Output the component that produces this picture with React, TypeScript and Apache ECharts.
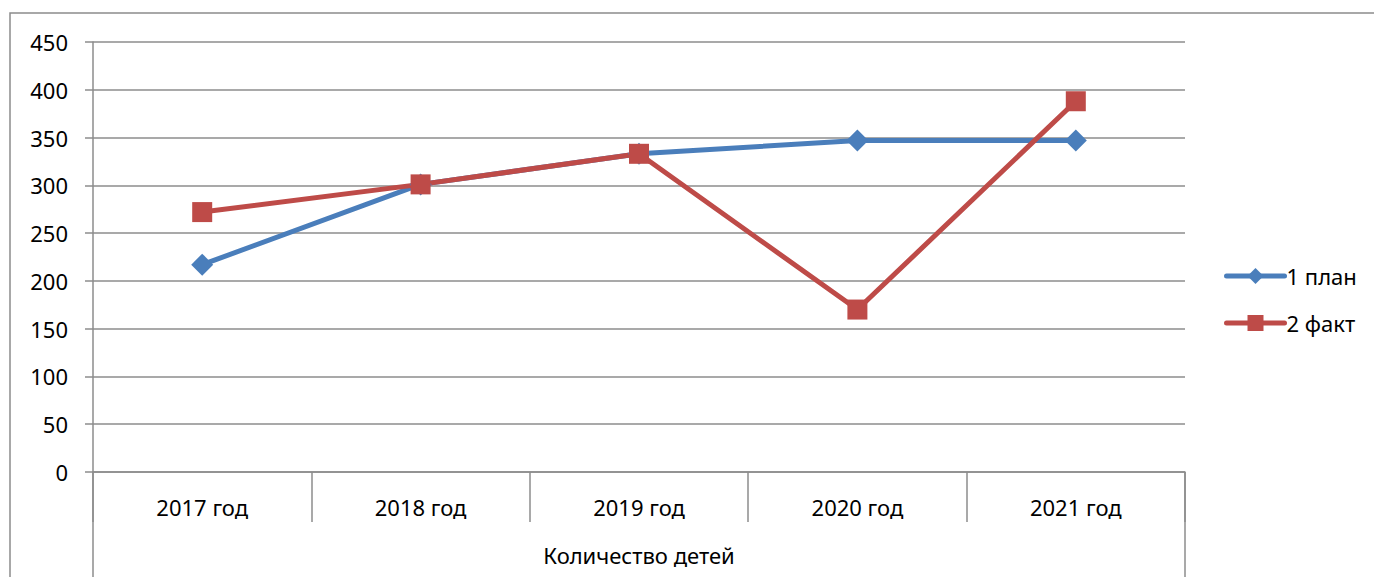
import React, { useEffect, useRef } from "react";
import * as echarts from "echarts";

const categories = ["2017 год", "2018 год", "2019 год", "2020 год", "2021 год"];
const groupLabel = ["Количество детей"];
const planValues = [217, 301, 333, 347, 347];
const factValues = [272, 301, 333, 170, 388];
const seriesNames = ["1 план", "2 факт"];

const FONT = "'Noto Sans', sans-serif";
const GRID_COLOR = "#8c8c8c";
const FS = 22;

export default function App() {
  const ref = useRef<HTMLDivElement>(null);
  useEffect(() => {
    if (!ref.current) return;
    const chart = echarts.init(ref.current, undefined, { renderer: "svg" });
    chart.setOption({
      animation: false,
      backgroundColor: "#ffffff",
      textStyle: { fontFamily: FONT },
      graphic: [
        {
          type: "rect",
          shape: { x: 10, y: 13, width: 1400, height: 600 },
          style: { fill: "none", stroke: "#8c8c8c", lineWidth: 1.5 },
          silent: true,
          z: -10,
        },
      ],
      grid: { left: 93, right: 189, top: 42, bottom: 105 },
      legend: {
        orient: "vertical",
        left: 1219,
        top: 260,
        itemWidth: 58,
        itemHeight: 20,
        itemGap: 25,
        lineStyle: { width: 5, cap: "round" },
        textStyle: { fontSize: FS, color: "#000", fontFamily: FONT, padding: [0, 0, 0, -3] },
        data: seriesNames,
      },
      xAxis: [
        {
          type: "category",
          data: categories,
          boundaryGap: true,
          axisLine: { lineStyle: { color: GRID_COLOR, width: 1.5 } },
          axisTick: { show: true, length: 50, interval: 0, lineStyle: { color: GRID_COLOR, width: 1.5 } },
          axisLabel: { margin: 24, fontSize: FS, color: "#000", fontFamily: FONT },
        },
        {
          type: "category",
          data: groupLabel,
          position: "bottom",
          boundaryGap: true,
          axisLine: { show: false },
          axisTick: { show: true, length: 110, lineStyle: { color: GRID_COLOR, width: 1.5 } },
          axisLabel: { margin: 72, fontSize: FS, color: "#000", fontFamily: FONT },
        },
      ],
      yAxis: {
        type: "value",
        min: 0,
        max: 450,
        interval: 50,
        axisLine: { show: true, lineStyle: { color: GRID_COLOR, width: 1.5 } },
        axisTick: { show: true, length: 8, lineStyle: { color: GRID_COLOR, width: 1.5 } },
        splitLine: { lineStyle: { color: GRID_COLOR, width: 1.5 } },
        axisLabel: { margin: 25, fontSize: FS, color: "#000", fontFamily: FONT },
      },
      series: [
        {
          name: seriesNames[0],
          type: "line",
          data: planValues,
          symbol: "diamond",
          symbolSize: 22,
          lineStyle: { color: "#4A7EBB", width: 5 },
          itemStyle: { color: "#4A7EBB" },
        },
        {
          name: seriesNames[1],
          type: "line",
          data: factValues,
          symbol: "rect",
          symbolSize: 20,
          lineStyle: { color: "#BE4B48", width: 5 },
          itemStyle: { color: "#BE4B48" },
        },
      ],
    });
    return () => chart.dispose();
  }, []);
  return (
    <div
      ref={ref}
      style={{ position: "fixed", left: 0, top: 0, width: 1374, height: 577, background: "#fff" }}
    />
  );
}
